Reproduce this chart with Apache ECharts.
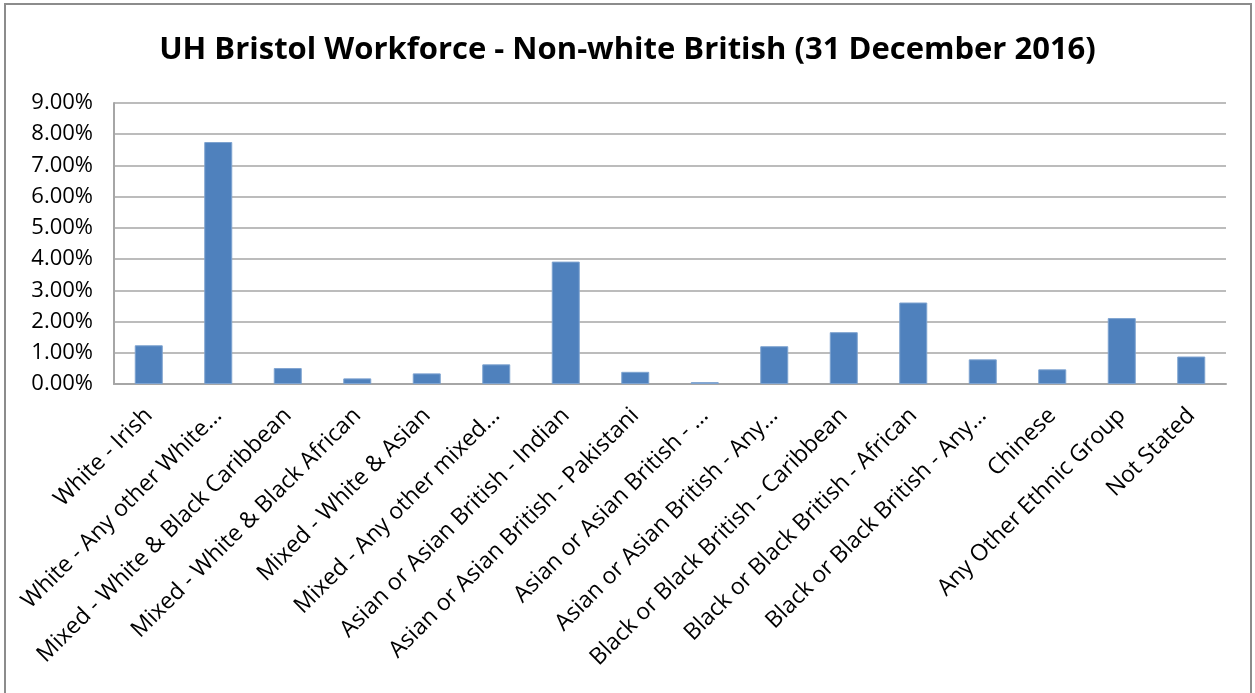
<!DOCTYPE html>
<html>
<head>
<meta charset="utf-8">
<script src="https://cdn.jsdelivr.net/npm/echarts@6/dist/echarts.min.js"></script>
<style>
  html, body { margin: 0; padding: 0; background: #fff; }
  #frame {
    position: absolute; left: 4px; top: 3px; width: 1248px; height: 700px;
    border: 2px solid #8c8c8c; box-sizing: border-box;
  }
  #chart { position: absolute; left: 0; top: 0; width: 1255px; height: 693px; }
</style>
</head>
<body>
<div id="frame"></div>
<div id="chart"></div>
<script>
var categories = [
  "White - Irish",
  "White - Any other White...",
  "Mixed - White & Black Caribbean",
  "Mixed - White & Black African",
  "Mixed - White & Asian",
  "Mixed - Any other mixed...",
  "Asian or Asian British - Indian",
  "Asian or Asian British - Pakistani",
  "Asian or Asian British - ...",
  "Asian or Asian British - Any...",
  "Black or Black British - Caribbean",
  "Black or Black British - African",
  "Black or Black British - Any...",
  "Chinese",
  "Any Other Ethnic Group",
  "Not Stated"
];
// percent of workforce
var shares = [1.24, 7.75, 0.51, 0.18, 0.34, 0.63, 3.92, 0.39, 0.06, 1.21, 1.66, 2.61, 0.79, 0.47, 2.11, 0.88];
var yTicks = { min: 0, max: 9, step: 1 };

var myChart = echarts.init(document.getElementById("chart"));
myChart.setOption({
  animation: false,
  title: {
    text: "UH Bristol Workforce - Non-white British (31 December 2016)",
    left: "center",
    top: 30,
    textStyle: {
      fontFamily: "Open Sans",
      fontWeight: "bold",
      fontSize: 31,
      color: "#000"
    }
  },
  grid: {
    left: 114,
    right: 29,
    top: 103,
    bottom: 309,
    containLabel: false
  },
  xAxis: {
    type: "category",
    data: categories,
    axisLine: { lineStyle: { color: "#a6a6a6", width: 2 } },
    axisTick: { show: false },
    axisLabel: {
      interval: 0,
      rotate: 45,
      margin: 28,
      color: "#000",
      fontFamily: "Open Sans",
      fontSize: 23
    }
  },
  yAxis: {
    type: "value",
    min: yTicks.min,
    max: yTicks.max,
    interval: yTicks.step,
    axisLine: { show: true, lineStyle: { color: "#a6a6a6", width: 2 } },
    axisTick: { show: false },
    splitLine: { lineStyle: { color: "#a6a6a6", width: 1.5 } },
    axisLabel: {
      margin: 21,
      color: "#000",
      fontFamily: "Open Sans",
      fontSize: 22,
      formatter: function (v) { return v.toFixed(2) + "%"; }
    }
  },
  series: [
    {
      type: "bar",
      data: shares,
      barWidth: 28,
      itemStyle: {
        color: "#4f81bd",
        borderColor: "#7ea3d0",
        borderWidth: 1
      }
    }
  ]
});
</script>
</body>
</html>
